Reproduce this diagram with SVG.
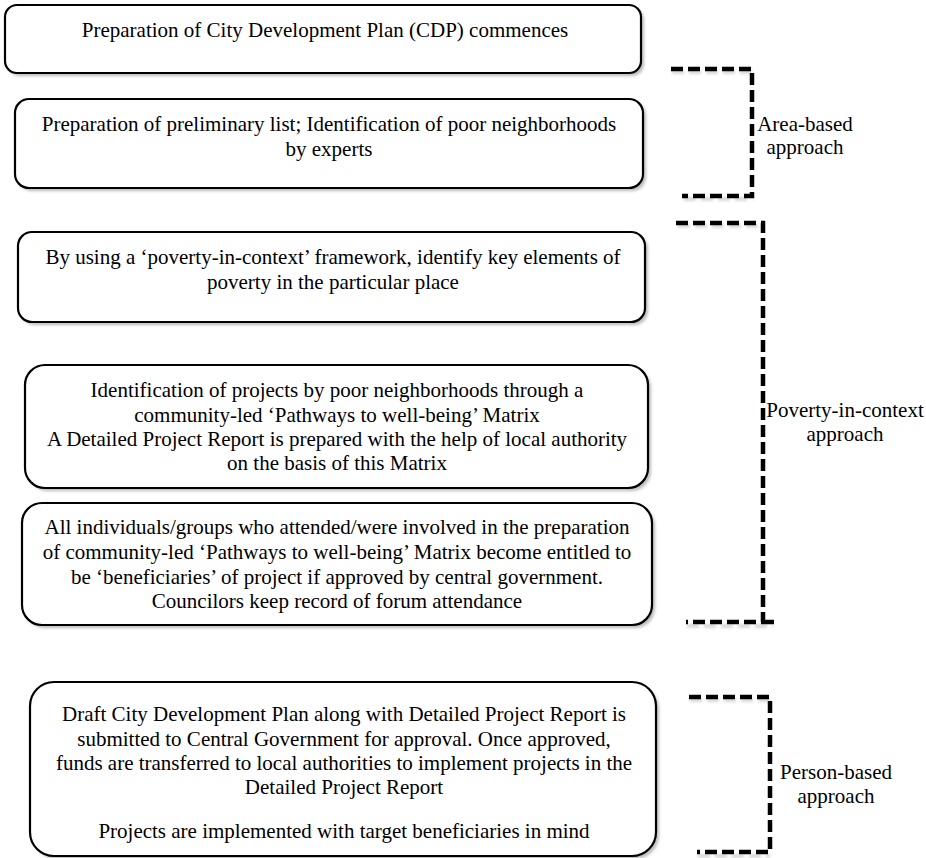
<svg xmlns="http://www.w3.org/2000/svg" width="926" height="858" viewBox="0 0 926 858">
<style>
.box{fill:#fff;stroke:#000;stroke-width:2.2}
.sh{fill:#bbb;filter:url(#blur)}
.t{font-family:'Liberation Serif','Times New Roman',Times,serif;font-size:21px;fill:#000;text-anchor:middle}
.br{fill:none;stroke:#000;stroke-width:4.5;stroke-dasharray:12 5}
.brs{fill:none;stroke:#ccc;stroke-width:3;stroke-dasharray:12 5;filter:url(#blur)}
</style>
<defs>
<filter id="blur" x="-5%" y="-10%" width="110%" height="130%"><feGaussianBlur stdDeviation="1.5"/></filter>
</defs>
<rect width="926" height="858" fill="#fff"/>
<g id="n1">
<rect class="sh" x="8" y="8" width="636" height="68" rx="12"/>
<rect class="box" x="5" y="5" width="636" height="68" rx="12"/>
<text class="t" x="325" y="37">Preparation of City Development Plan (CDP) commences</text>
</g>
<g id="n2">
<rect class="sh" x="18" y="102" width="628" height="89" rx="14"/>
<rect class="box" x="15" y="99" width="628" height="89" rx="14"/>
<text class="t" x="329" y="131">Preparation of preliminary list; Identification of poor neighborhoods</text>
<text class="t" x="329" y="156">by experts</text>
</g>
<g id="n3">
<rect class="sh" x="21" y="235" width="627" height="90" rx="14"/>
<rect class="box" x="18" y="232" width="627" height="90" rx="14"/>
<text class="t" x="333" y="264">By using a ‘poverty-in-context’ framework, identify key elements of</text>
<text class="t" x="333" y="289">poverty in the particular place</text>
</g>
<g id="n4">
<rect class="sh" x="28" y="368" width="623" height="123" rx="20"/>
<rect class="box" x="25" y="365" width="623" height="123" rx="20"/>
<text class="t" x="337" y="397">Identification of projects by poor neighborhoods through a</text>
<text class="t" x="337" y="422">community-led ‘Pathways to well-being’ Matrix</text>
<text class="t" x="337" y="446">A Detailed Project Report is prepared with the help of local authority</text>
<text class="t" x="337" y="470">on the basis of this Matrix</text>
</g>
<g id="n5">
<rect class="sh" x="25" y="506" width="630" height="122" rx="20"/>
<rect class="box" x="22" y="503" width="630" height="122" rx="20"/>
<text class="t" x="337" y="534">All individuals/groups who attended/were involved in the preparation</text>
<text class="t" x="337" y="559">of community-led ‘Pathways to well-being’ Matrix become entitled to</text>
<text class="t" x="337" y="584">be ‘beneficiaries’ of project if approved by central government.</text>
<text class="t" x="337" y="608">Councilors keep record of forum attendance</text>
</g>
<g id="n6">
<rect class="sh" x="33" y="685" width="626" height="174" rx="24"/>
<rect class="box" x="30" y="682" width="626" height="174" rx="24"/>
<text class="t" x="344" y="721">Draft City Development Plan along with Detailed Project Report is</text>
<text class="t" x="344" y="746">submitted to Central Government for approval. Once approved,</text>
<text class="t" x="344" y="770">funds are transferred to local authorities to implement projects in the</text>
<text class="t" x="344" y="794">Detailed Project Report</text>
<text class="t" x="344" y="838">Projects are implemented with target beneficiaries in mind</text>
</g>
<g id="connectors">
<path class="brs" d="M672 72 H753 M684 199 H753"/>
<path class="brs" d="M678 226 H763 M687 626 H773"/>
<path class="brs" d="M690 700 H770 M698 856 H770"/>
<path class="br" d="M671 69 H752 V196 H682"/>
<path class="br" d="M676 223 H763 V622 H686 M763 622 H774"/>
<path class="br" d="M689 697 H770 V852 H697"/>
</g>
<g id="labels">
<text class="t" x="805" y="131">Area-based</text>
<text class="t" x="805" y="154">approach</text>
<text class="t" x="845" y="417">Poverty-in-context</text>
<text class="t" x="845" y="441">approach</text>
<text class="t" x="836" y="779">Person-based</text>
<text class="t" x="836" y="803">approach</text>
</g>
</svg>
